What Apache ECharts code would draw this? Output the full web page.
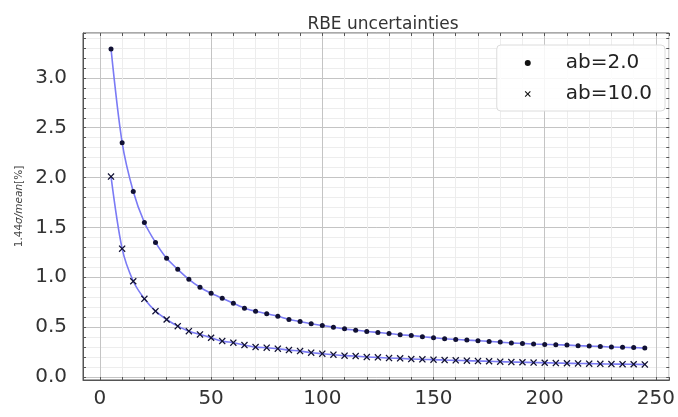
<!DOCTYPE html>
<html>
<head>
<meta charset="utf-8">
<script src="https://cdn.jsdelivr.net/npm/echarts@6/dist/echarts.min.js"></script>
<style>
  html, body { margin: 0; padding: 0; background: #fff; }
  #chart { width: 678px; height: 417px; }
</style>
</head>
<body>
<div id="chart"></div>
<script>
// dose points (x) and relative uncertainties
var doses = [5, 10, 15, 20, 25, 30, 35, 40, 45, 50, 55, 60, 65, 70, 75, 80, 85, 90, 95, 100,
  105, 110, 115, 120, 125, 130, 135, 140, 145, 150, 155, 160, 165, 170, 175, 180, 185, 190, 195, 200,
  205, 210, 215, 220, 225, 230, 235, 240, 245];

var ab2 = [3.29, 2.35, 1.86, 1.55, 1.35, 1.19, 1.08, 0.98, 0.90, 0.84, 0.79, 0.74, 0.69, 0.66, 0.634, 0.61, 0.577, 0.557, 0.534, 0.517,
  0.50, 0.483, 0.47, 0.457, 0.447, 0.437, 0.424, 0.417, 0.404, 0.394, 0.384, 0.377, 0.37, 0.364, 0.357, 0.35, 0.342, 0.337, 0.331, 0.327,
  0.324, 0.32, 0.314, 0.31, 0.307, 0.301, 0.298, 0.295, 0.29];

var ab10 = [2.01, 1.287, 0.96, 0.784, 0.66, 0.577, 0.51, 0.46, 0.427, 0.394, 0.36, 0.344, 0.32, 0.30, 0.294, 0.284, 0.27, 0.26, 0.244, 0.234,
  0.224, 0.214, 0.21, 0.20, 0.197, 0.19, 0.187, 0.18, 0.177, 0.174, 0.17, 0.167, 0.164, 0.16, 0.158, 0.154, 0.15, 0.148, 0.145, 0.143,
  0.14, 0.138, 0.136, 0.134, 0.132, 0.13, 0.129, 0.128, 0.126];

var seriesNames = ['ab=2.0', 'ab=10.0'];

var chart = echarts.init(document.getElementById('chart'));

function pairs(ys) {
  return doses.map(function (d, i) { return [d, ys[i]]; });
}

var crossPath = 'path://M0,1.3L1.3,0L5,3.7L8.7,0L10,1.3L6.3,5L10,8.7L8.7,10L5,6.3L1.3,10L0,8.7L3.7,5Z';
var gridColors = ['#ededed', '#c4c4c4', '#ededed', '#ededed', '#ededed'];
var font = 'DejaVu Sans';

// no fixed interval: let echarts pick nice 10 / 0.1 steps aligned on zero
function xAxisDef(pos, showLabels) {
  return {
    type: 'value', position: pos, min: -7.6, max: 256, splitNumber: 26,
    axisLine: { show: pos === 'bottom', onZero: false, lineStyle: { color: '#555', width: 1 } },
    axisTick: { show: true, inside: true, length: 3, lineStyle: { color: '#555' } },
    axisLabel: {
      show: showLabels, interval: 0, margin: 9, fontSize: 20, color: '#333', fontFamily: font,
      formatter: function (v) {
        var r = Math.round(v);
        return (Math.abs(v - r) < 1e-6 && r % 50 === 0) ? String(r) : '';
      }
    },
    splitLine: { show: pos === 'bottom', lineStyle: { color: gridColors, width: 1 } }
  };
}

function yAxisDef(pos, showLabels) {
  return {
    type: 'value', position: pos, min: -0.03, max: 3.45, splitNumber: 35,
    name: showLabels ? '1.44{i|σ/mean}[%]' : '',
    nameLocation: 'middle', nameGap: 57, nameRotate: 90,
    nameTextStyle: { fontSize: 10.5, color: '#444', fontFamily: font, rich: { i: { fontSize: 10.5, fontStyle: 'italic', color: '#444', fontFamily: font } } },
    axisLine: { show: pos === 'left', onZero: false, lineStyle: { color: '#555', width: 1 } },
    axisTick: { show: true, inside: true, length: 3, lineStyle: { color: '#555' } },
    axisLabel: {
      show: showLabels, interval: 0, margin: 16, fontSize: 20, color: '#333', fontFamily: font,
      formatter: function (v) {
        var r = Math.round(v * 2);
        return (Math.abs(v * 2 - r) < 1e-6 && v >= -1e-6) ? (r / 2).toFixed(1) : '';
      }
    },
    splitLine: { show: pos === 'left', lineStyle: { color: gridColors, width: 1 } }
  };
}

var option = {
  animation: false,
  backgroundColor: '#fff',
  title: {
    text: 'RBE uncertainties', left: 378, top: 11, textAlign: 'center',
    textStyle: { fontSize: 17, fontWeight: 'normal', color: '#333', fontFamily: font }
  },
  grid: {
    left: 83, right: 4, top: 33, bottom: 37, show: true,
    borderColor: '#555', borderWidth: 1, backgroundColor: 'transparent'
  },
  legend: {
    orient: 'vertical', right: 13, top: 45,
    padding: [8, 13, 7, 28], itemGap: 11,
    backgroundColor: 'rgba(255,255,255,0.85)',
    borderColor: '#dcdcdc', borderWidth: 1, borderRadius: 4,
    itemWidth: 6, itemHeight: 6,
    textStyle: { fontSize: 20, color: '#222', fontFamily: font, padding: [0, 0, 0, 30] },
    data: [
      { name: seriesNames[0], icon: 'circle', itemStyle: { color: '#111' } },
      { name: seriesNames[1], icon: crossPath, itemStyle: { color: '#111' } }
    ]
  },
  xAxis: [xAxisDef('bottom', true), xAxisDef('top', false)],
  yAxis: [yAxisDef('left', true), yAxisDef('right', false)],
  series: [
    {
      name: 'fit2', type: 'line', data: pairs(ab2), smooth: 0.3, showSymbol: false,
      lineStyle: { color: '#7b7bf5', width: 1.6 }, z: 2
    },
    {
      name: 'fit10', type: 'line', data: pairs(ab10), smooth: 0.3, showSymbol: false,
      lineStyle: { color: '#7b7bf5', width: 1.6 }, z: 2
    },
    {
      name: seriesNames[0], type: 'scatter', data: pairs(ab2),
      symbol: 'circle', symbolSize: 5, itemStyle: { color: '#111133', opacity: 1 }, z: 3
    },
    {
      name: seriesNames[1], type: 'scatter', data: pairs(ab10),
      symbol: crossPath, symbolSize: 7, itemStyle: { color: '#111133', opacity: 1 }, z: 3
    }
  ]
};

option && chart.setOption(option);
</script>
</body>
</html>
